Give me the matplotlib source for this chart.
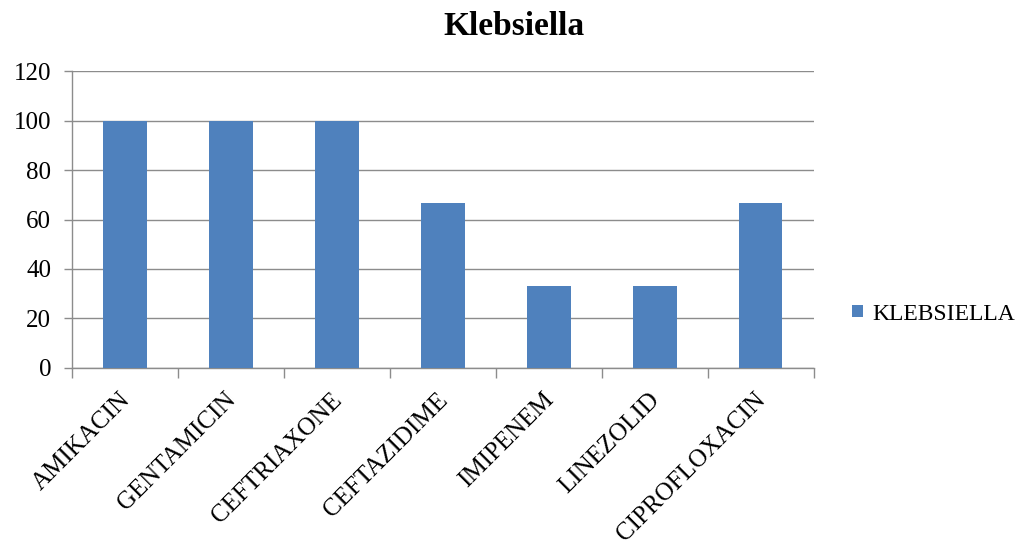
import matplotlib.pyplot as plt
import matplotlib.transforms as mtransforms
import numpy as np

drugs = ["AMIKACIN", "GENTAMICIN", "CEFTRIAXONE", "CEFTAZIDIME",
         "IMIPENEM", "LINEZOLID", "CIPROFLOXACIN"]
klebsiella = [100, 100, 100, 66.67, 33.33, 33.33, 66.67]
yticks = [0, 20, 40, 60, 80, 100, 120]

plt.rcParams['font.family'] = ['Liberation Serif', 'DejaVu Serif']
grey = "#8c8c8c"

fig = plt.figure(figsize=(10.21, 5.48), dpi=100)
ax = fig.add_axes([0.0705, 0.3285, 0.7265, 0.5419])

x = np.arange(len(drugs))
ax.bar(x, klebsiella, width=0.41, color="#4f81bd", label="KLEBSIELLA", zorder=3)

ax.set_xlim(-0.5, len(drugs) - 0.5)
ax.set_ylim(0, 120)
ax.set_yticks(yticks)
ax.tick_params(axis='y', labelsize=18, length=6, color=grey, width=1, pad=9)
ax.yaxis.grid(True, color=grey, linewidth=1, zorder=0)

ax.set_xticks(x)
ax.set_xticklabels(drugs, rotation=45, ha='right', rotation_mode='anchor', fontsize=18)
ax.tick_params(axis='x', which='major', length=0, pad=15)
ax.set_xticks(np.arange(len(drugs) + 1) - 0.5, minor=True)
ax.tick_params(axis='x', which='minor', length=7, color=grey, width=1)

# nudge the slanted labels a little to the left
shift = mtransforms.ScaledTranslation(-6 / 100, 0, fig.dpi_scale_trans)
for lbl in ax.get_xticklabels():
    lbl.set_transform(lbl.get_transform() + shift)

for side in ["top", "right"]:
    ax.spines[side].set_visible(False)
for side in ["left", "bottom"]:
    ax.spines[side].set_color(grey)
    ax.spines[side].set_linewidth(1)

fig.suptitle("Klebsiella", x=0.503, y=0.98, fontsize=24, fontweight='bold')

fig.legend(loc='center left', bbox_to_anchor=(0.814, 0.427), frameon=False,
           fontsize=17, handlelength=0.45, handleheight=0.45, handletextpad=0.4)

fig.savefig("out.png", dpi=100)
